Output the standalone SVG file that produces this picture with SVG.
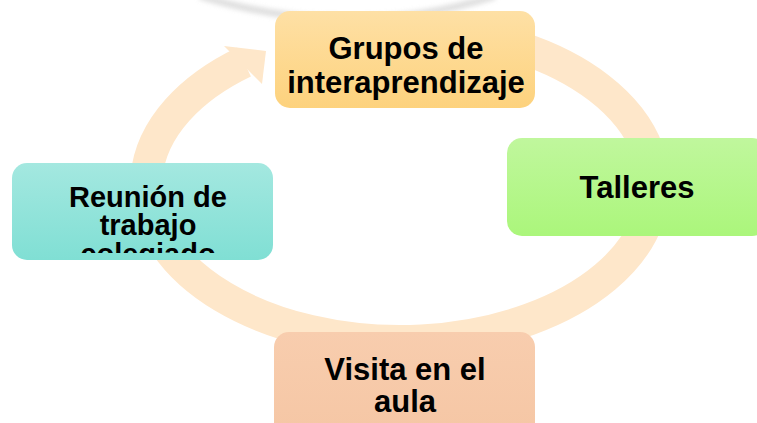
<svg xmlns="http://www.w3.org/2000/svg" width="757" height="423" viewBox="0 0 757 423">
  <defs>
    <linearGradient id="gOrange" x1="0" y1="0" x2="0" y2="1">
      <stop offset="0" stop-color="#FEE0A5"/>
      <stop offset="1" stop-color="#FDD27D"/>
    </linearGradient>
    <linearGradient id="gGreen" x1="0" y1="0" x2="0" y2="1">
      <stop offset="0" stop-color="#C0F79D"/>
      <stop offset="1" stop-color="#ABF67B"/>
    </linearGradient>
    <linearGradient id="gTeal" x1="0" y1="0" x2="0" y2="1">
      <stop offset="0" stop-color="#A4E8E0"/>
      <stop offset="1" stop-color="#80DFD4"/>
    </linearGradient>
    <linearGradient id="gPeach" x1="0" y1="0" x2="0" y2="1">
      <stop offset="0" stop-color="#F8CDAE"/>
      <stop offset="1" stop-color="#F5C6A4"/>
    </linearGradient>
    <filter id="blur" x="-20%" y="-50%" width="140%" height="200%">
      <feGaussianBlur stdDeviation="2.5"/>
    </filter>
    <clipPath id="clipReunion">
      <rect x="12" y="163" width="261" height="90"/>
    </clipPath>
  </defs>
  <style>
    .lbl { font-family: "Liberation Sans", Arial, sans-serif; font-weight: bold; fill: #000; text-anchor: middle; }
    .ring { fill: none; stroke: #FEE7CA; stroke-width: 32; }
  </style>

  <rect width="757" height="423" fill="#FFFFFF"/>

  <!-- faint gray shadow arc at top -->
  <path d="M 200 -4 Q 350 42 495 -4" fill="none" stroke="#D6D6D6" stroke-width="7" filter="url(#blur)" opacity="0.8"/>

  <g id="connectors">
    <path class="ring" d="M 520 47.5 A 254 156 0 1 1 244 62"/>
    <polygon points="224,46 266,51 262,84" fill="#FEE7CA"/>
  </g>

  <g id="grupos">
    <rect x="275" y="11" width="260" height="97" rx="15" fill="url(#gOrange)"/>
    <text class="lbl" x="406" y="59" font-size="31">Grupos de</text>
    <text class="lbl" x="406" y="93" font-size="31">interaprendizaje</text>
  </g>

  <g id="talleres">
    <rect x="507" y="138" width="260" height="98" rx="15" fill="url(#gGreen)"/>
    <text class="lbl" x="637" y="198" font-size="31">Talleres</text>
  </g>

  <g id="reunion">
    <rect x="12" y="163" width="261" height="97" rx="15" fill="url(#gTeal)"/>
    <g clip-path="url(#clipReunion)">
      <text class="lbl" x="148" y="207" font-size="29">Reunión de</text>
      <text class="lbl" x="148" y="235" font-size="29">trabajo</text>
      <text class="lbl" x="148" y="264" font-size="29">colegiado</text>
    </g>
  </g>

  <g id="visita">
    <rect x="274" y="332" width="261" height="110" rx="15" fill="url(#gPeach)"/>
    <text class="lbl" x="405" y="380" font-size="31">Visita en el</text>
    <text class="lbl" x="405" y="412" font-size="31">aula</text>
  </g>
</svg>
